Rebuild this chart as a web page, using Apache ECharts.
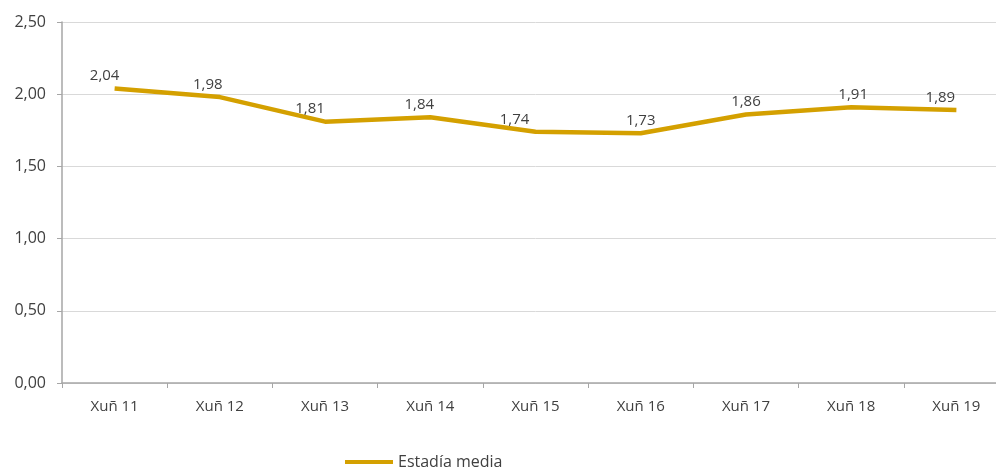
<!DOCTYPE html>
<html><head><meta charset="utf-8">
<script src="https://cdn.jsdelivr.net/npm/echarts@6/dist/echarts.min.js"></script>
<style>html,body{margin:0;padding:0;background:#fff;overflow:hidden}#c{width:1010px;height:470px}</style>
</head><body><div id="c"></div>
<script>
const categories = ['Xuñ 11','Xuñ 12','Xuñ 13','Xuñ 14','Xuñ 15','Xuñ 16','Xuñ 17','Xuñ 18','Xuñ 19'];
const values = [2.04, 1.98, 1.81, 1.84, 1.74, 1.73, 1.86, 1.91, 1.89];
const seriesName = 'Estadía media';
const yTicks = [0, 0.5, 1, 1.5, 2, 2.5];
// style only: horizontal nudges of the value labels, as placed in the reference
const labelNudge = [-10, -12, -15, -11, -21, 0, 0, 2, -16];

const fmt = v => v.toFixed(2).replace('.', ',');
const font = 'Open Sans';
const chart = echarts.init(document.getElementById('c'));
chart.setOption({
  animation: false,
  textStyle: {fontFamily: font},
  grid: {left: 62, top: 22, right: 1, bottom: 87},
  legend: {
    top: 449, left: 340, itemWidth: 48, itemHeight: 4, itemGap: 4,
    icon: 'rect',
    textStyle: {fontFamily: font, fontSize: 16, color: '#404040'},
    data: [seriesName]
  },
  xAxis: {
    type: 'category', data: categories, boundaryGap: true,
    axisLine: {lineStyle: {color: '#a6a6a6', width: 1.5}},
    axisTick: {show: true, length: 5, lineStyle: {color: '#a6a6a6'}},
    axisLabel: {fontFamily: font, fontSize: 15, color: '#404040', margin: 16}
  },
  yAxis: {
    type: 'value', min: yTicks[0], max: yTicks[yTicks.length-1], interval: 0.5,
    axisLine: {show: true, lineStyle: {color: '#a6a6a6', width: 1.5}},
    axisTick: {show: true, length: 5, lineStyle: {color: '#a6a6a6'}},
    axisLabel: {fontFamily: font, fontSize: 16, color: '#404040', margin: 16, formatter: v => fmt(v)},
    splitLine: {lineStyle: {color: '#d9d9d9', width: 1}}
  },
  series: [{
    name: seriesName, type: 'line',
    data: values.map((v, i) => ({value: v, label: {offset: [labelNudge[i], 0]}})),
    symbol: 'circle', symbolSize: 0, showSymbol: true,
    lineStyle: {color: '#D4A000', width: 4.5},
    itemStyle: {color: '#D4A000'},
    label: {show: true, position: 'top', distance: 5, fontFamily: font, fontSize: 15, color: '#404040', formatter: p => fmt(p.value)}
  }]
});
</script></body></html>
